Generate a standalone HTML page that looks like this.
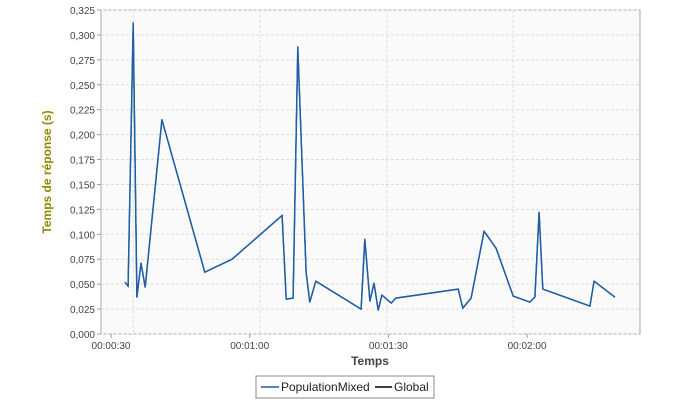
<!DOCTYPE html>
<html><head><meta charset="utf-8"><style>
body{margin:0;background:#fff;font-family:"Liberation Sans",sans-serif;}
</style></head><body>
<svg width="690" height="400" xmlns="http://www.w3.org/2000/svg" font-family="Liberation Sans, sans-serif">
<rect x="101" y="10" width="539" height="324" fill="#fafafa" stroke="#aaaaaa"/>
<g id="grid"></g><g id="axes"></g><g id="series"></g>
<text x="370" y="365" text-anchor="middle" font-size="12" font-weight="bold" fill="#444">Temps</text>
<text transform="translate(51,172) rotate(-90)" text-anchor="middle" font-size="12" font-weight="bold" fill="#8c8c00">Temps de réponse (s)</text>
<g>
<rect x="256" y="376" width="178" height="22" fill="#fff" stroke="#888"/>
<line x1="261" y1="387" x2="279" y2="387" stroke="#1f5fa8" stroke-width="1.5"/>
<text x="281" y="391" font-size="12" fill="#222">PopulationMixed</text>
<line x1="375" y1="387" x2="392" y2="387" stroke="#000" stroke-width="1.5"/>
<text x="394" y="391" font-size="12" fill="#222">Global</text>
</g>
</svg>
<script>
const times=[33.0,33.7,34.8,35.6,36.5,37.4,41.0,50.3,56.2,67.0,67.9,69.4,70.4,72.2,73.0,74.3,84.1,84.9,86.0,86.9,87.8,88.6,90.6,91.6,105.1,106.1,107.9,110.7,113.3,117.0,120.6,121.7,122.6,123.4,133.6,134.5,139.0];
const values=[0.052,0.048,0.312,0.037,0.071,0.047,0.215,0.062,0.075,0.119,0.035,0.036,0.288,0.062,0.032,0.053,0.025,0.095,0.033,0.051,0.024,0.039,0.031,0.036,0.045,0.026,0.036,0.103,0.086,0.038,0.032,0.037,0.122,0.045,0.028,0.053,0.037];
const yTicks=[0,0.025,0.05,0.075,0.1,0.125,0.15,0.175,0.2,0.225,0.25,0.275,0.3,0.325];
const xTicks=[30,60,90,120];
const xTickLabels=["00:00:30","00:01:00","00:01:30","00:02:00"];
const xGrid=[34.8,62.2,89.7,117.0];
const NS="http://www.w3.org/2000/svg";
const xs=t=>111+(t-30)*4.623;
const ys=v=>334-v/0.325*324;
function mk(tag,attrs,parent,txt){const e=document.createElementNS(NS,tag);for(const k in attrs)e.setAttribute(k,attrs[k]);if(txt!==undefined)e.textContent=txt;document.getElementById(parent).appendChild(e);return e;}
yTicks.forEach(v=>{
 const g=mk('line',{x1:101,x2:640,y1:ys(v),y2:ys(v),stroke:'#dddddd','stroke-dasharray':'3,2'},'grid');
 
 
 const t=mk('line',{x1:97,x2:101,y1:ys(v),y2:ys(v),stroke:'#999'},'axes');
 const l=mk('text',{x:95,y:ys(v)+4,'text-anchor':'end','font-size':'10',fill:'#444'},'axes',v.toFixed(3).replace('.',','));
 
 
});
xGrid.forEach(t=>{
 const g=mk('line',{x1:xs(t),x2:xs(t),y1:10,y2:334,stroke:'#dddddd','stroke-dasharray':'3,2'},'grid');
 
 
});
xTicks.forEach((t,i)=>{
 mk('line',{x1:xs(t),x2:xs(t),y1:334,y2:338,stroke:'#999'},'axes');
 const l=mk('text',{x:xs(t),y:349,'text-anchor':'middle','font-size':'10',fill:'#444'},'axes',xTickLabels[i]);
 
 
});
const pts=times.map((t,i)=>xs(t).toFixed(1)+','+ys(values[i]).toFixed(1)).join(' ');
const g1=mk('polyline',{points:pts,fill:'none',stroke:'#000','stroke-width':1.2},'series');


const p1=mk('polyline',{points:pts,fill:'none',stroke:'#1f5fa8','stroke-width':1.5,'stroke-linejoin':'round'},'series');


</script>
</body></html>
